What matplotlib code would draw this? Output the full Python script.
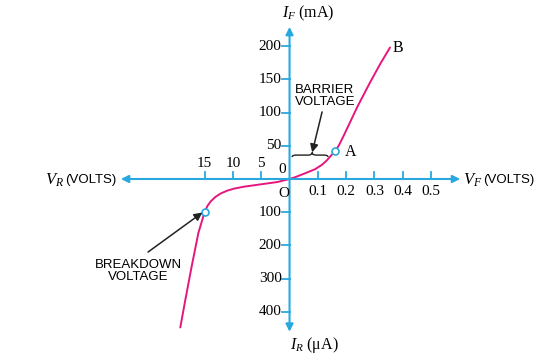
#diode V-I characteristic sketch
#forward side in volts / mA, reverse side in volts / uA (each quadrant has its own scale)

import matplotlib.pyplot as plt
from matplotlib.path import Path
from matplotlib.patches import PathPatch
import numpy as np

plt.rcParams['mathtext.fontset'] = 'custom'
plt.rcParams['mathtext.rm'] = 'Liberation Serif'
plt.rcParams['mathtext.it'] = 'Liberation Serif:italic'

# forward bias curve, O -> A -> B
fwd_volts = [0.0, 0.019, 0.055, 0.090, 0.114, 0.131, 0.149, 0.162, 0.176, 0.19, 0.24, 0.284, 0.32, 0.355]
fwd_ma = [0.0, 2.6, 8.6, 14.7, 21.2, 27.7, 36.4, 42.0, 52.0, 64.0, 109.0, 145.0, 173.0, 198.0]

# reverse bias curve (magnitudes), O -> breakdown -> bottom
rev_volts = [0.0, 2.1, 5.05, 8.0, 9.8, 11.0, 12.2, 13.1, 13.9, 14.5, 15.0, 15.5, 16.1, 17.3, 18.4, 19.3]
rev_ua = [0.0, 9.0, 16.0, 23.0, 29.0, 35.0, 44.0, 54.0, 67.0, 81.0, 99.0, 128.0, 162.0, 264.0, 363.0, 447.0]

vf_ticks = [0.1, 0.2, 0.3, 0.4, 0.5]
vr_ticks = [5, 10, 15]
if_ticks = [50, 100, 150, 200]
ir_ticks = [100, 200, 300, 400]

point_a = (0.162, 42.0)       # V, mA
breakdown = (15.0, 99.0)      # V, uA

# one tick step = one unit on the drawing
VF_STEP, VR_STEP, IF_STEP, IR_STEP = 0.1, 5.0, 50.0, 100.0

cyan = "#29a8e0"
magenta = "#e5177e"
serif = "Liberation Serif"
sans = "Liberation Sans"


def fx(v):
    return np.asarray(v) / VF_STEP

def rx(v):
    return -np.asarray(v) / VR_STEP

def fy(i):
    return np.asarray(i) / IF_STEP

def ry(i):
    return -np.asarray(i) / IR_STEP


fig = plt.figure(figsize=(5.57, 3.58), dpi=100)
ax = fig.add_axes([0, 0, 1, 1])
ax.set_xlim(-10.23, 9.45)
ax.set_ylim(-5.39, 5.39)
ax.axis("off")

# axes with arrow heads
arr = dict(arrowstyle="<|-|>", color=cyan, lw=1.5, mutation_scale=11, shrinkA=0, shrinkB=0)
ax.annotate("", xy=(6.03, 0), xytext=(-5.96, 0), arrowprops=arr)
ax.annotate("", xy=(0, 4.58), xytext=(0, -4.6), arrowprops=arr)

# ticks and labels
for v in vf_ticks:
    ax.plot([fx(v)] * 2, [0, 0.21], color=cyan, lw=1.3)
    ax.text(fx(v), -0.39, f"{v:g}", ha="center", va="center", family=serif, size=11)
for v in vr_ticks:
    ax.plot([rx(v)] * 2, [0, 0.21], color=cyan, lw=1.3)
    ax.text(rx(v), 0.46, f"{v}", ha="center", va="center", family=serif, size=11)
for i in if_ticks:
    ax.plot([-0.25, 0], [fy(i)] * 2, color=cyan, lw=1.3)
    ax.text(-0.28, fy(i), f"{i}", ha="right", va="center", family=serif, size=11)
for i in ir_ticks:
    ax.plot([-0.25, 0], [ry(i)] * 2, color=cyan, lw=1.3)
    ax.text(-0.28, ry(i), f"{i}", ha="right", va="center", family=serif, size=11)

ax.text(-0.26, 0.3, "0", ha="center", va="center", family=serif, size=11)
ax.text(-0.19, -0.43, "O", ha="center", va="center", family=serif, size=11)

# axis titles
ax.text(-0.27, 5.0, r"$I_F$ (mA)", ha="left", va="center", family=serif, size=11.5)
ax.text(0.02, -5.0, r"$I_R$ (μA)", ha="left", va="center", family=serif, size=11.5)
ax.text(-8.64, -0.03, r"$V_R$", ha="left", va="center", family=serif, size=12)
ax.text(-7.93, -0.03, "(VOLTS)", ha="left", va="center", family=sans, size=9.5)
ax.text(6.13, -0.03, r"$V_F$", ha="left", va="center", family=serif, size=12)
ax.text(6.84, -0.03, "(VOLTS)", ha="left", va="center", family=sans, size=9.5)

# characteristic curve
xs = np.concatenate([rx(rev_volts)[::-1], fx(fwd_volts)[1:]])
ys = np.concatenate([ry(rev_ua)[::-1], fy(fwd_ma)[1:]])
ax.plot(xs, ys, color=magenta, lw=1.4, solid_capstyle="round", solid_joinstyle="round")

ax.plot(fx(point_a[0]), fy(point_a[1]), "o", mfc="white", mec=cyan, ms=5, mew=1.2)
ax.plot(rx(breakdown[0]), ry(breakdown[1]), "o", mfc="white", mec=cyan, ms=5, mew=1.2)

ax.text(1.96, 0.8, "A", ha="left", va="center", family=serif, size=11.5)
ax.text(3.65, 3.93, "B", ha="left", va="center", family=serif, size=11.5)

# barrier voltage brace
x0, x1, xm = 0.09, 1.36, 0.8
yb, yl, yt, dx = 0.66, 0.72, 0.8, 0.14
verts = [(x0, yb), (x0, yl), (x0 + dx, yl), (xm - dx, yl), (xm, yl), (xm, yt),
         (xm, yl), (xm + dx, yl), (x1 - dx, yl), (x1, yl), (x1, yb)]
codes = [Path.MOVETO, Path.CURVE3, Path.CURVE3, Path.LINETO, Path.CURVE3, Path.CURVE3,
         Path.CURVE3, Path.CURVE3, Path.LINETO, Path.CURVE3, Path.CURVE3]
ax.add_patch(PathPatch(Path(verts, codes), fill=False, color="#222222", lw=1.0))

black_arr = dict(arrowstyle="-|>", color="#222222", lw=1.1, mutation_scale=12, shrinkA=0, shrinkB=0)
ax.annotate("", xy=(xm, yt), xytext=(1.15, 2.02), arrowprops=black_arr)
ax.text(1.25, 2.5, "BARRIER\nVOLTAGE", ha="center", va="center", family=sans, size=9.5,
        linespacing=1.05, multialignment="center")

ax.annotate("", xy=(rx(breakdown[0]) - 0.08, ry(breakdown[1]) - 0.02), xytext=(-5.0, -2.2),
            arrowprops=black_arr)
ax.text(-5.35, -2.77, "BREAKDOWN\nVOLTAGE", ha="center", va="center", family=sans, size=9.5,
        linespacing=1.05, multialignment="center")

fig.savefig("out.png", dpi=100)
